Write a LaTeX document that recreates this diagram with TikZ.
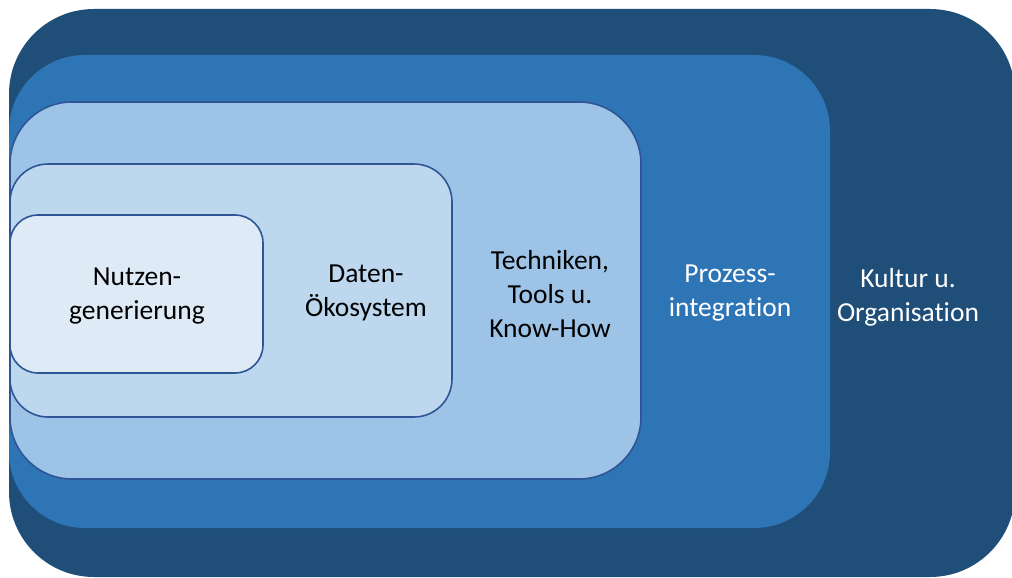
\documentclass[tikz,border=0pt]{standalone}
\usepackage{fontspec}
\setmainfont[Ligatures=NoCommon]{Carlito}
\definecolor{cOuter}{HTML}{1F4E79}
\definecolor{cMid}{HTML}{2E75B6}
\definecolor{cLight}{HTML}{9DC3E6}
\definecolor{cLighter}{HTML}{BDD7EE}
\definecolor{cLightest}{HTML}{DEEBF7}
\definecolor{cLine}{HTML}{2F5597}
\begin{document}
\begin{tikzpicture}[x=1pt,y=-1pt,
  layer/.style={rectangle,inner sep=0pt,outer sep=0pt},
  outlined/.style={draw=cLine,line width=1.6pt},
  lbl/.style={align=center,font=\fontsize{27.5}{34}\selectfont,inner sep=0pt}]
\useasboundingbox (0,0) rectangle (1012,578);
\node[layer,fill=cOuter,rounded corners=85pt,minimum width=1006pt,minimum height=568pt] (kultur) at (512,293) {};
\node[layer,fill=cMid,rounded corners=76pt,minimum width=821pt,minimum height=473pt] (prozess) at (419.5,291.5) {};
\node[layer,fill=cLight,outlined,rounded corners=62pt,minimum width=631pt,minimum height=377pt] (technik) at (325.5,290.5) {};
\node[layer,fill=cLighter,outlined,rounded corners=38pt,minimum width=442pt,minimum height=253pt] (daten) at (231,290.5) {};
\node[layer,fill=cLightest,outlined,rounded corners=28pt,minimum width=253pt,minimum height=158pt] (nutzen) at (136.5,294) {};
\node[lbl,text=black] (tnutzen) at (137,296.5) {Nutzen-\\generierung};
\node[lbl,text=black] (tdaten) at (366,293) {Daten-\\Ökosystem};
\node[lbl,text=black] (ttechnik) at (550,294) {Techniken,\\Tools u.\\Know-How};
\node[lbl,text=white] (tprozess) at (730,293) {Prozess-\\integration};
\node[lbl,text=white] (tkultur) at (908,297) {Kultur u.\\Organisation};
\end{tikzpicture}
\end{document}
